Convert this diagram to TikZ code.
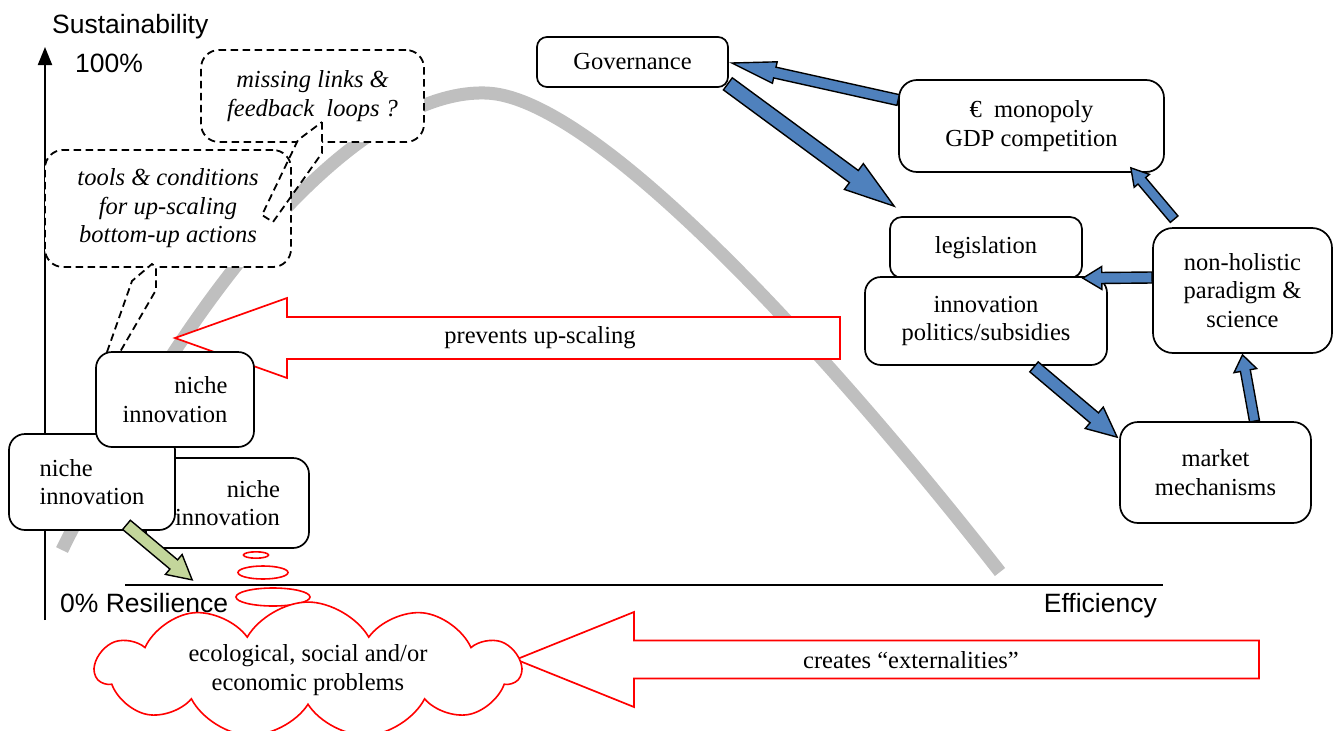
\documentclass[tikz,border=0pt]{standalone}
\usepackage{fontspec}
\setmainfont{Liberation Serif}
\newfontfamily\sansf{Liberation Sans}
\usetikzlibrary{calc,arrows.meta,shapes.symbols}
\newcommand\txtfont{\fontsize{24.5}{28.5}\selectfont}
\newcommand\lblfont{\sansf\fontsize{26.5}{30}\selectfont}
% #1 style, #2 from, #3 to (tip), #4 half shaft, #5 half head, #6 head length
\newcommand\blockarr[6]{%
  \coordinate (ba-h) at ($(#3)!#6!(#2)$);
  \draw[#1] ($(#2)!#4!90:(#3)$) -- ($(ba-h)!#4!90:(#3)$) -- ($(ba-h)!#5!90:(#3)$) -- (#3)
    -- ($(ba-h)!#5!-90:(#3)$) -- ($(ba-h)!#4!-90:(#3)$) -- ($(#2)!#4!-90:(#3)$) -- cycle;}
\definecolor{curvegray}{HTML}{BFBFBF}
\definecolor{arrblue}{HTML}{4F81BD}
\definecolor{arrgreen}{HTML}{C3D69B}
\tikzset{
  box/.style={draw, line width=1.7pt, fill=white, rounded corners=16pt, font=\txtfont, align=center, inner sep=0pt},
  callbox/.style={draw, line width=1.8pt, dash pattern=on 7.5pt off 4.5pt, fill=white, rounded corners=18pt, font=\txtfont\itshape, align=center, inner sep=0pt},
  tailline/.style={line width=1.8pt, dash pattern=on 7.5pt off 4.5pt},
  lbl/.style={font=\lblfont, inner sep=0pt},
  txt/.style={font=\txtfont, inner sep=0pt, align=center},
  bluearr/.style={draw=black, line width=1.4pt, fill=arrblue, line join=miter},
  greenarr/.style={draw=black, line width=1.4pt, fill=arrgreen, line join=miter},
  redarr/.style={draw=red, line width=1.7pt, fill=white, line join=miter},
  bubble/.style={draw=red, line width=1.6pt, fill=white},
}
\begin{document}
\begin{tikzpicture}[x=1pt,y=-1pt]
\useasboundingbox (0,0) rectangle (1339,731);
% gray curve
\draw[curvegray, line width=13pt, line cap=butt] (62,550) .. controls (220,230) and (380,90) .. (485,93)
   .. controls (600,95) and (850,380) .. (1000,572);
% axes
\coordinate (ybot) at (45,620);
\coordinate (ytop) at (45,47);
\coordinate (xl) at (125,585);
\coordinate (xr) at (1163,585);
\draw[line width=2pt, -{Triangle[width=14pt,length=18pt]}] (ybot) -- (ytop);
\draw[line width=1.6pt] (xl) -- (xr);
\node[lbl, anchor=base west] (sus) at (52,33) {Sustainability};
\node[lbl, anchor=base west] (hund) at (75,72) {100\%};
\node[lbl, anchor=base west] (res) at (60,612) {0\% Resilience};
\node[lbl, anchor=base east] (eff) at (1157,612) {Efficiency};
% callouts
\node[callbox, minimum width=246pt, minimum height=117pt] (co2) at (168,208.5)
  {tools \& conditions\\for up-scaling\\bottom-up actions};
\node[callbox, minimum width=223pt, minimum height=92pt] (co1) at (312.5,96)
  {missing links \&\\feedback~ loops ?};
\fill[white] (322,122) -- (322,144) -- (296.5,144) -- (298,140) -- cycle;
\draw[tailline] (322,122) -- (322,153) -- (273,222) -- (262,215) -- (298,140) -- cycle;
\fill[white] (107,352) -- (132,281) -- (152,264) -- (156,267) -- (156,290) -- (120,352) -- cycle;
\draw[tailline] (107,352) -- (132,281) -- (152,264) -- (156,267) -- (156,290) -- (120,352);
% red arrow prevents up-scaling
\coordinate (pu-tip) at (175,338);
\coordinate (pu-end) at (840,338);
\blockarr{redarr}{pu-end}{pu-tip}{21pt}{40pt}{112pt}
\node[txt] (pu) at (540,338) {prevents up-scaling};
% niche innovations
\node[box, minimum width=163pt, minimum height=90pt, align=right] (n3) at (227.5,503) {niche\\innovation};
\node[box, minimum width=166pt, minimum height=96pt, align=left] (n2) at (92,482) {niche\\innovation};
\node[box, minimum width=158pt, minimum height=95pt, align=right] (n1) at (175,399.5) {niche\\innovation};
% green arrow
\coordinate (g-s) at ($(n2.south)+(34.5,-6)$);
\coordinate (g-t) at ($(n3.south west)+(47,31)$);
\blockarr{greenarr}{g-s}{g-t}{6pt}{13pt}{24pt}
% thought bubbles
\draw[bubble] (256,555) ellipse [x radius=12.5, y radius=3.2];
\draw[bubble] (263,572.5) ellipse [x radius=25, y radius=6.5];
% creates externalities arrow
\coordinate (ex-tip) at (516,659.5);
\coordinate (ex-end) at (1259,659.5);
\blockarr{redarr}{ex-end}{ex-tip}{19pt}{47.5pt}{118pt}
\node[txt] (ext) at (911,660) {creates “externalities”};
\draw[bubble] (273,597) ellipse [x radius=37, y radius=9];
\node[cloud, draw=red, fill=white, line width=1.6pt, cloud puffs=11, cloud puff arc=120, aspect=4,
  minimum width=425pt, minimum height=98pt, font=\txtfont, align=center, inner sep=0pt] (prob) at (308,670)
  {ecological, social and/or\\economic problems};
% right-hand system
\node[box, rounded corners=10pt, minimum width=191pt, minimum height=50pt] (gov) at (632.5,62) {Governance};
\node[box, rounded corners=18pt, minimum width=265pt, minimum height=92pt] (euro) at (1031.5,126) {€~ monopoly\\GDP competition};
\node[box, rounded corners=12pt, minimum width=192pt, minimum height=61pt] (leg) at (986,247.5) {legislation};
\node[box, rounded corners=16pt, minimum width=242pt, minimum height=88pt] (inn) at (986,321) {innovation\\politics/subsidies};
\node[box, rounded corners=20pt, minimum width=179pt, minimum height=125pt] (nh) at (1242.5,290.5) {non-holistic\\paradigm \&\\science};
\node[box, rounded corners=18pt, minimum width=191pt, minimum height=101pt] (mkt) at (1215.5,472.5) {market\\mechanisms};
% blue arrows
\coordinate (a1s) at ($(euro.west)+(0,-26)$);
\coordinate (a1t) at ($(gov.east)+(3,1)$);
\blockarr{bluearr}{a1s}{a1t}{5.5pt}{11pt}{44pt}
\coordinate (a2s) at ($(gov.south east)+(-1,-4)$);
\coordinate (a2t) at ($(leg.north west)+(5,-10)$);
\blockarr{bluearr}{a2s}{a2t}{7.5pt}{16pt}{50pt}
\coordinate (a3s) at ($(nh.north west)+(22,-8)$);
\coordinate (a3t) at ($(euro.south east)+(-34,-5)$);
\blockarr{bluearr}{a3s}{a3t}{5pt}{10pt}{17pt}
\coordinate (a4s) at ($(nh.west)+(0,-13)$);
\coordinate (a4t) at ($(inn.north east)+(-25,2)$);
\blockarr{bluearr}{a4s}{a4t}{5.5pt}{11.5pt}{19pt}
\coordinate (a5s) at ($(inn.south)+(48,1)$);
\coordinate (a5t) at ($(mkt.north west)+(-2,16)$);
\blockarr{bluearr}{a5s}{a5t}{6.5pt}{14pt}{30pt}
\coordinate (a6s) at ($(mkt.north)+(39,0)$);
\coordinate (a6t) at ($(nh.south)+(0,1)$);
\blockarr{bluearr}{a6s}{a6t}{5pt}{11.5pt}{16pt}
\end{tikzpicture}
\end{document}
